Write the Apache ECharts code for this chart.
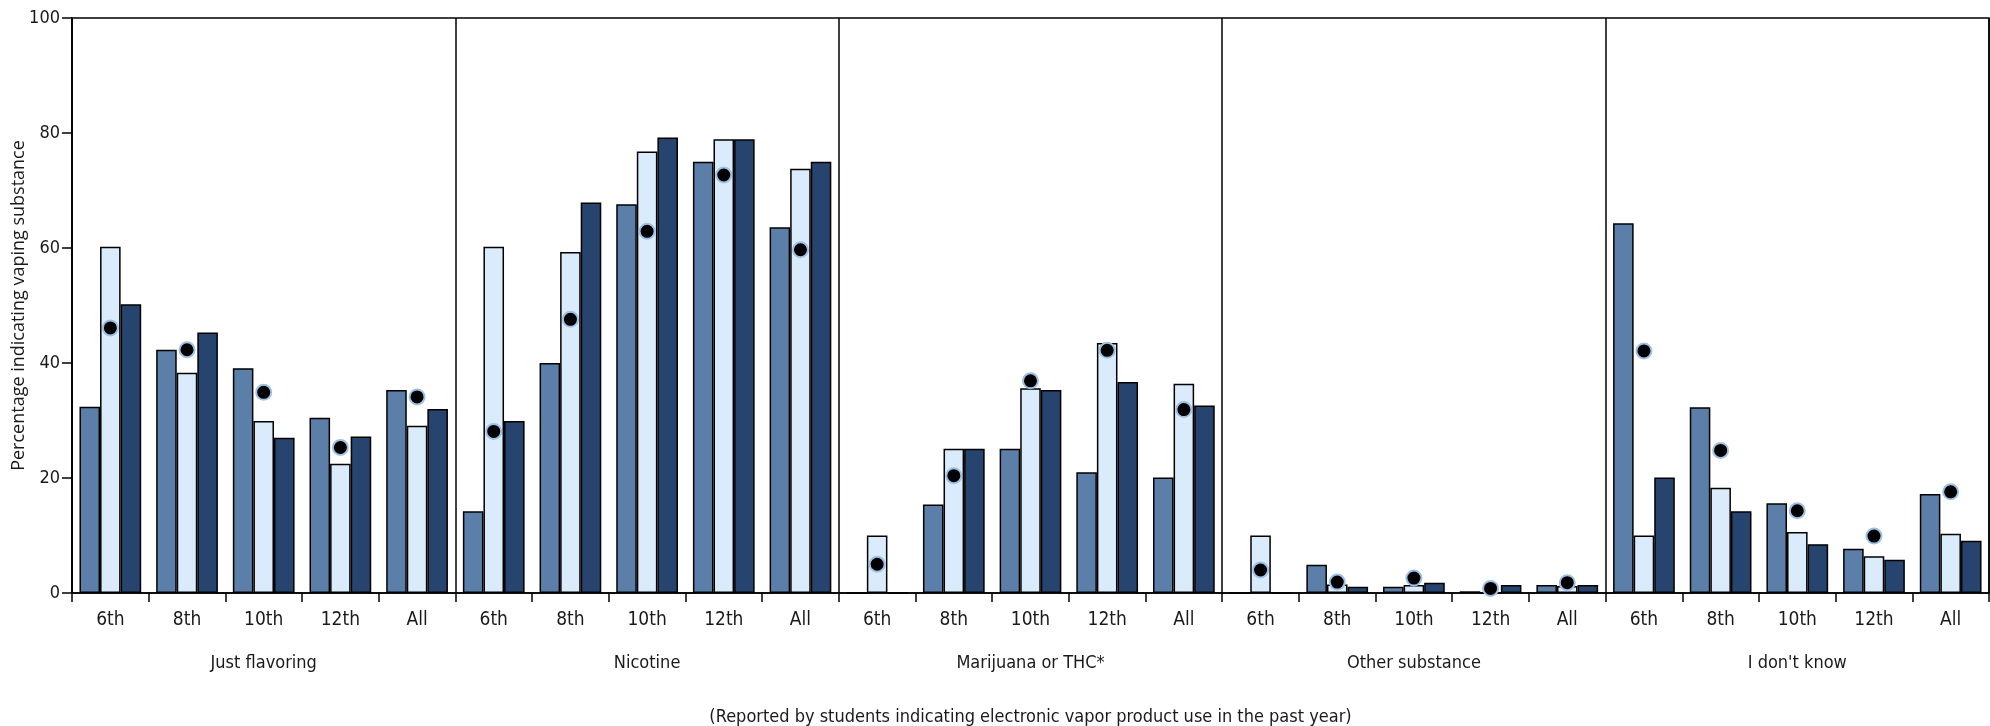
<!DOCTYPE html>
<html>
<head>
<meta charset="utf-8">
<script src="https://cdn.jsdelivr.net/npm/echarts@6/dist/echarts.min.js"></script>
<style>
html,body{margin:0;padding:0;background:#fff;}
#chart{width:1990px;height:726px;}
</style>
</head>
<body>
<div id="chart"></div>
<script>
// ---- data ----
const grades = ['6th', '8th', '10th', '12th', 'All'];
const substances = ['Just flavoring', 'Nicotine', 'Marijuana or THC*', 'Other substance', "I don't know"];

// values per category (5 grades x 5 substances, in order)
const seriesMedium = [32.4, 42.3, 39.1, 30.5, 35.3,  14.2, 40.0, 67.6, 75.0, 63.6,  0, 15.4, 25.1, 21.0, 20.1,  0, 4.9, 1.1, 0.3, 1.4,  64.3, 32.3, 15.6, 7.7, 17.2];
const seriesLight  = [60.2, 38.3, 29.9, 22.5, 29.1,  60.2, 59.3, 76.8, 78.9, 73.8,  10.0, 25.1, 35.6, 43.5, 36.4,  10.0, 1.5, 1.4, 0, 1.2,  10.0, 18.3, 10.6, 6.4, 10.3];
const seriesDark   = [50.2, 45.3, 27.0, 27.2, 32.0,  29.9, 67.9, 79.2, 78.9, 75.0,  0, 25.1, 35.3, 36.7, 32.6,  0, 1.1, 1.8, 1.4, 1.4,  20.1, 14.2, 8.5, 5.8, 9.1];
const seriesDots   = [46.1, 42.3, 34.9, 25.3, 34.1,  28.1, 47.6, 62.9, 72.7, 59.7,  5.0, 20.4, 36.9, 42.2, 31.9,  4.0, 1.9, 2.6, 0.8, 1.8,  42.1, 24.8, 14.3, 9.9, 17.6];

const yTicks = [0, 20, 40, 60, 80, 100];
const yTitle = 'Percentage indicating vaping substance';
const footnote = '(Reported by students indicating electronic vapor product use in the past year)';

// ---- build ----
const categories = [];
substances.forEach(() => grades.forEach(g => categories.push(g)));

const FONT = '"Liberation Sans Narrow", "DejaVu Sans Condensed", "Arial Narrow", sans-serif';
const TEXT = '#1a1a1a';

const chart = echarts.init(document.getElementById('chart'), null, {renderer: 'canvas'});
const barBase = {
  type: 'bar',
  xAxisIndex: 0,
  barGap: '0%',
  barCategoryGap: '19.5%',
  animation: false
};
chart.setOption({
  animation: false,
  grid: {
    left: 72, right: 1, top: 18, bottom: 133,
    outerBoundsMode: 'none',
    containLabel: false,
    show: true, borderColor: '#000', borderWidth: 1.5, backgroundColor: 'transparent'
  },
  xAxis: [
    {
      type: 'category',
      data: categories,
      position: 'bottom',
      axisLine: {show: true, lineStyle: {color: '#000', width: 1.5}},
      axisTick: {show: true, interval: 0, length: 9, lineStyle: {color: '#000', width: 1.5}},
      axisLabel: {interval: 0, margin: 18, fontSize: 19, fontFamily: FONT, color: TEXT},
      splitLine: {show: false},
      name: footnote,
      nameLocation: 'middle',
      nameGap: 115,
      nameMoveOverlap: false,
      nameTextStyle: {fontSize: 18, fontFamily: FONT, color: TEXT}
    },
    {
      type: 'category',
      data: substances,
      position: 'bottom',
      axisLine: {show: false},
      axisTick: {show: false},
      axisLabel: {interval: 0, margin: 61, fontSize: 18, fontFamily: FONT, color: TEXT},
      splitLine: {show: true, interval: 0, lineStyle: {color: '#000', width: 1.5}}
    }
  ],
  yAxis: {
    type: 'value',
    min: yTicks[0],
    max: yTicks[yTicks.length - 1],
    interval: 20,
    axisLine: {show: true, lineStyle: {color: '#000', width: 1.5}},
    axisTick: {show: true, length: 10, lineStyle: {color: '#000', width: 1.5}},
    axisLabel: {margin: 12, fontSize: 18, fontFamily: FONT, color: TEXT},
    splitLine: {show: false},
    name: yTitle,
    nameLocation: 'middle',
    nameGap: 44,
    nameMoveOverlap: false,
    nameTextStyle: {fontSize: 18, fontFamily: '"Open Sans", sans-serif', color: TEXT}
  },
  series: [
    Object.assign({}, barBase, {name: 'Medium', data: seriesMedium,
      itemStyle: {color: '#5b7fa8', borderColor: '#000', borderWidth: 1.5}}),
    Object.assign({}, barBase, {name: 'Light', data: seriesLight,
      itemStyle: {color: '#daecfc', borderColor: '#000', borderWidth: 1.5}}),
    Object.assign({}, barBase, {name: 'Dark', data: seriesDark,
      itemStyle: {color: '#26446e', borderColor: '#000', borderWidth: 1.5}}),
    {
      type: 'scatter', name: 'Dots', xAxisIndex: 0, data: seriesDots,
      symbol: 'circle', symbolSize: 15, z: 10,
      itemStyle: {color: '#000', borderColor: '#9fc0e6', borderWidth: 2, opacity: 1}
    }
  ]
});
</script>
</body>
</html>
